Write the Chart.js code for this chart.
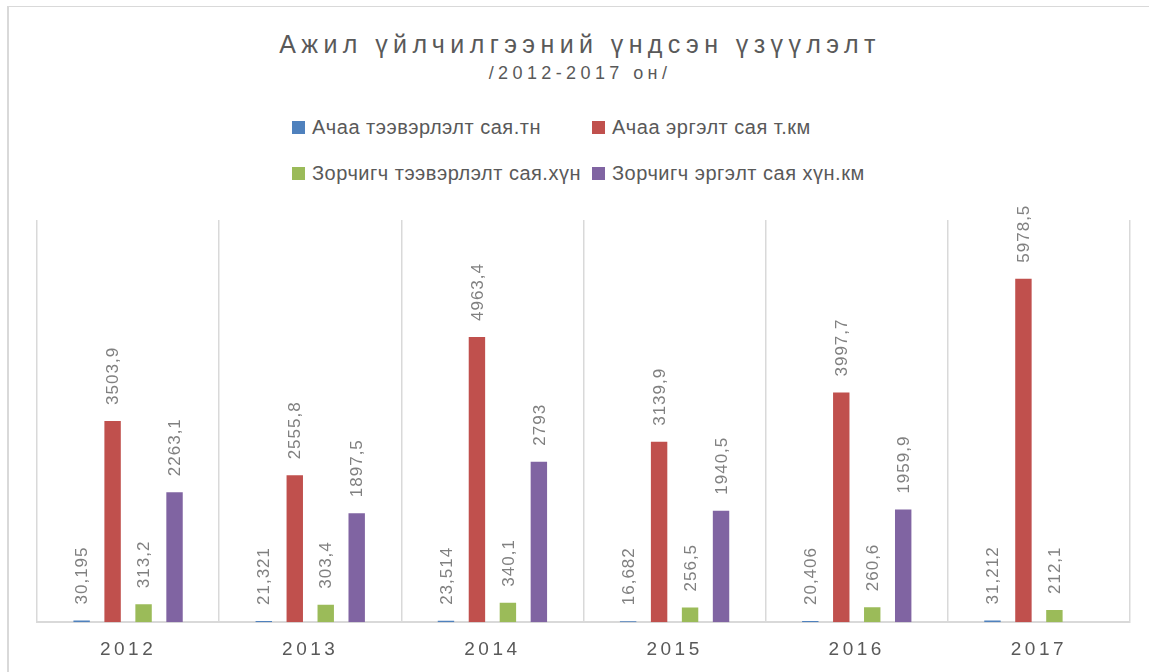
<!DOCTYPE html>
<html lang="mn">
<head>
    <meta charset="UTF-8">
    <title>Ажил үйлчилгээний үндсэн үзүүлэлт</title>
    <style>
        body { margin: 0; background: #fff; font-family: "Liberation Sans", Arial, sans-serif; color: #595959; overflow: hidden; }
        .frame { position: absolute; left: 7px; top: 6px; width: 1200px; height: 700px; border-top: 1px solid #d9d9d9; border-left: 2px solid #d9d9d9; }
        .title { position: absolute; left: 0; width: 1160px; text-align: center; white-space: nowrap; line-height: 1; }
        #mainTitle { top: 32px; font-size: 25px; letter-spacing: 5.4px; }
        #subTitle { top: 64px; font-size: 18px; letter-spacing: 4.4px; }
        #legend { position: absolute; left: 292px; top: 117px; display: grid; grid-template-columns: 300px 300px; row-gap: 26px; font-size: 20px; line-height: 20px; letter-spacing: 0.5px; }
        #legend div { display: flex; align-items: center; white-space: nowrap; }
        #legend span { display: inline-block; width: 13px; height: 13px; margin-right: 7px; }
        canvas { position: absolute; left: 0; top: 0; }
    </style>
</head>
<body>

<div class="frame"></div>
<div class="title" id="mainTitle">Ажил үйлчилгээний үндсэн үзүүлэлт</div>
<div class="title" id="subTitle">/2012-2017 он/</div>
<div id="legend"></div>
<canvas id="chart" width="1149" height="690"></canvas>

<script src="https://cdn.jsdelivr.net/npm/chart.js"></script>
<script>
// data
const years = ['2012', '2013', '2014', '2015', '2016', '2017'];
const cargoTons = [30.195, 21.321, 23.514, 16.682, 20.406, 31.212];
const cargoTurnover = [3503.9, 2555.8, 4963.4, 3139.9, 3997.7, 5978.5];
const passengers = [313.2, 303.4, 340.1, 256.5, 260.6, 212.1];
const passengerTurnover = [2263.1, 1897.5, 2793, 1940.5, 1959.9, null];

const seriesLabels = ['Ачаа тээвэрлэлт сая.тн', 'Ачаа эргэлт сая т.км', 'Зорчигч тээвэрлэлт сая.хүн', 'Зорчигч эргэлт сая хүн.км'];
const seriesColors = ['#4F81BD', '#C0504D', '#9BBB59', '#8064A2'];
const seriesData = [cargoTons, cargoTurnover, passengers, passengerTurnover];

// html legend, 2 columns like the original
const legendBox = document.getElementById('legend');
seriesLabels.forEach((label, i) => {
    const item = document.createElement('div');
    item.innerHTML = '<span style="background:' + seriesColors[i] + '"></span>' + label;
    legendBox.appendChild(item);
});

// value labels written upwards above each bar
const barLabels = {
    id: 'barLabels',
    beforeDraw(chart) {
        chart.ctx.letterSpacing = '3.5px';
    },
    beforeDatasetsDraw(chart) {
        chart.ctx.letterSpacing = '0px';
    },
    afterDatasetsDraw(chart) {
        const ctx = chart.ctx;
        ctx.save();
        ctx.font = '17px "Liberation Sans", Arial, sans-serif';
        ctx.fillStyle = '#808080';
        ctx.letterSpacing = '1px';
        ctx.textAlign = 'left';
        ctx.textBaseline = 'middle';
        chart.data.datasets.forEach((ds, i) => {
            chart.getDatasetMeta(i).data.forEach((bar, j) => {
                const v = ds.data[j];
                if (v === null || v === undefined) return;
                ctx.save();
                ctx.translate(bar.x + 1, bar.y - 16);
                ctx.rotate(-Math.PI / 2);
                ctx.fillText(String(v).replace('.', ','), 0, 0);
                ctx.restore();
            });
        });
        ctx.restore();
    }
};

new Chart(document.getElementById('chart'), {
    type: 'bar',
    data: {
        labels: years,
        datasets: seriesLabels.map((label, i) => ({
            label: label,
            data: seriesData[i],
            backgroundColor: seriesColors[i],
            categoryPercentage: 0.68,
            barPercentage: 0.53
        }))
    },
    options: {
        responsive: false,
        animation: false,
        layout: { padding: { left: 37, right: 19, top: 220, bottom: 13 } },
        plugins: {
            legend: { display: false },
            tooltip: { enabled: false }
        },
        scales: {
            x: {
                grid: { color: '#d9d9d9', lineWidth: 1.5, drawTicks: false },
                border: { color: '#d9d9d9', width: 2 },
                ticks: {
                    color: '#595959',
                    padding: 16,
                    font: { family: '"Liberation Sans", Arial, sans-serif', size: 19 }
                }
            },
            y: {
                display: false,
                min: 0,
                max: 7000
            }
        }
    },
    plugins: [barLabels]
});
</script>

</body>
</html>
